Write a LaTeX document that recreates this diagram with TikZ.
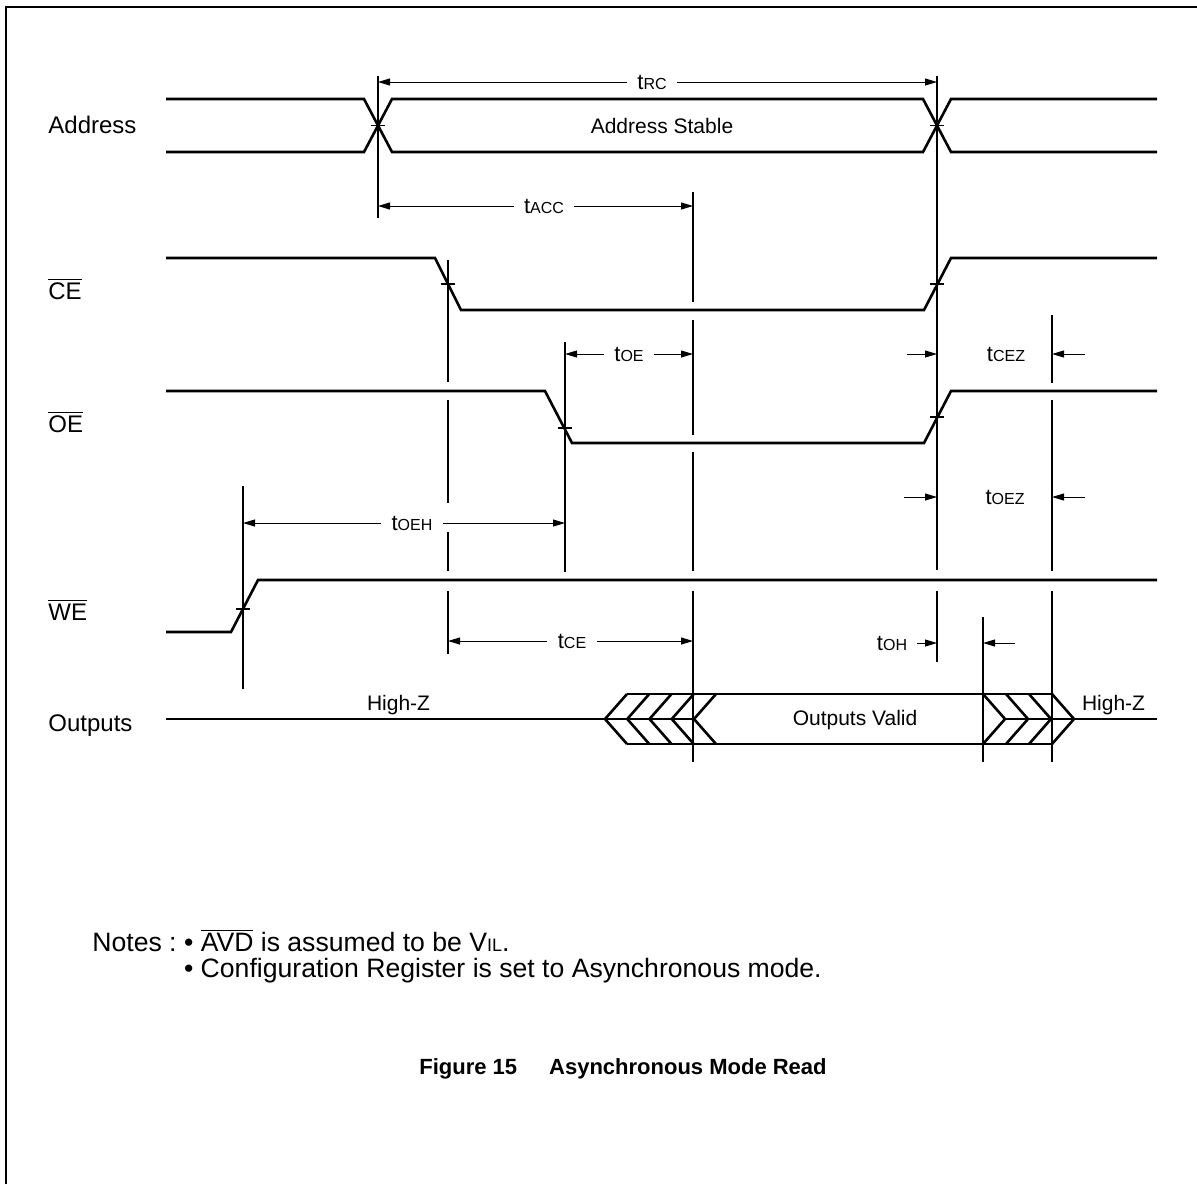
\documentclass[tikz,border=0pt]{standalone}
\usepackage{fontspec}
\setmainfont{Liberation Sans}
\usetikzlibrary{arrows.meta}

\newcommand{\tsub}[1]{t{\fontsize{8}{9}\selectfont #1}}
\newcommand{\ovl}[1]{$\overline{\hbox{#1}}$}

\begin{document}
\begin{tikzpicture}[x=0.5pt,y=-0.5pt,
    sig/.style={line width=1.3pt},
    guide/.style={line width=0.6pt},
    dim/.style={line width=0.5pt,-{Triangle[length=6pt,width=3.5pt]}},
    tlbl/.style={font=\fontsize{11}{13}\selectfont,inner sep=5pt},
    lbl/.style={font=\fontsize{12}{14}\selectfont,anchor=base west,inner sep=0pt},
    txt/.style={font=\fontsize{10.5}{12}\selectfont,inner sep=0pt}]
    \useasboundingbox (0,0) rectangle (1197,1184);
    \draw[line width=1pt] (6,1184) -- (6,7) -- (1197,7);

    % signal names
    \node[lbl] (addr) at (48,133) {Address};
    \node[lbl] (ce) at (48,299) {\ovl{CE}};
    \node[lbl] (oe) at (48,432) {\ovl{OE}};
    \node[lbl] (we) at (48,620) {\ovl{WE}};
    \node[lbl] (outs) at (48,731) {Outputs};

    % waveforms
    \draw[sig] (166,99) -- (364,99) -- (392,152) -- (923,152) -- (951,99) -- (1157,99);
    \draw[sig] (166,152) -- (364,152) -- (392,99) -- (923,99) -- (951,152) -- (1157,152);
    \node[txt] (stable) at (662,125.5) {Address Stable};
    \draw[sig] (166,258) -- (435,258) -- (461,310) -- (924,310) -- (951,258) -- (1157,258);
    \draw[sig] (166,391) -- (545,391) -- (572,443) -- (924,443) -- (951,391) -- (1157,391);
    \draw[sig] (166,632) -- (231,632) -- (258,580) -- (1157,580);

    % outputs bus
    \draw[sig] (166,719) -- (694,719);
    \draw[sig] (1005,719) -- (1157,719);
    \draw[sig] (627,694) -- (1052,694);
    \draw[sig] (627,744) -- (1052,744);
    \foreach \k in {0,...,4}
      \draw[sig] ({627+22.25*\k},694) -- ({605+22.25*\k},719) -- ({627+22.25*\k},744);
    \foreach \k in {0,...,3}
      \draw[sig] ({983+23*\k},694) -- ({1005+23*\k},719) -- ({983+23*\k},744);
    \node[txt,anchor=base] (hz1) at (398.5,710) {High-Z};
    \node[txt,anchor=base] (hz2) at (1113.5,710) {High-Z};
    \node[txt] (valid) at (855,720) {Outputs Valid};

    % reference lines
    \draw[guide] (378,76) -- (378,218);
    \draw[guide] (937,76) -- (937,570) (937,591) -- (937,662);
    \draw[guide] (448,260) -- (448,382) (448,400) -- (448,503) (448,532) -- (448,571) (448,591) -- (448,654);
    \draw[guide] (565,342) -- (565,572);
    \draw[guide] (693,192) -- (693,302) (693,320) -- (693,435) (693,452) -- (693,571) (693,591) -- (693,762);
    \draw[guide] (243,486) -- (243,689);
    \draw[guide] (983,617) -- (983,762);
    \draw[guide] (1052,315) -- (1052,383) (1052,400) -- (1052,571) (1052,591) -- (1052,762);
    \foreach \p in {(378,125.5),(937,125.5),(448,284),(937,284),(565,428),(937,417),(243,609)}
      \draw[guide] \p ++(-7,0) -- ++(14,0);

    % timing parameters
    \node[tlbl] (trc) at (652,82) {\tsub{RC}};
    \coordinate (trcL) at (378,82); \coordinate (trcR) at (937,82);
    \draw[dim] (trc) -- (trcL); \draw[dim] (trc) -- (trcR);
    \node[tlbl] (tacc) at (544,206) {\tsub{ACC}};
    \coordinate (taccL) at (378,206); \coordinate (taccR) at (693,206);
    \draw[dim] (tacc) -- (taccL); \draw[dim] (tacc) -- (taccR);
    \node[tlbl] (toe) at (629,354) {\tsub{OE}};
    \coordinate (toeL) at (565,354); \coordinate (toeR) at (693,354);
    \draw[dim] (toe) -- (toeL); \draw[dim] (toe) -- (toeR);
    \node[tlbl] (tcez) at (1006,354) {\tsub{CEZ}};
    \coordinate (cezA) at (907,354); \coordinate (cezB) at (937,354);
    \coordinate (cezC) at (1085,354); \coordinate (cezD) at (1052,354);
    \draw[dim] (cezA) -- (cezB); \draw[dim] (cezC) -- (cezD);
    \node[tlbl] (toez) at (1005,497) {\tsub{OEZ}};
    \coordinate (oezA) at (904,497); \coordinate (oezB) at (937,497);
    \coordinate (oezC) at (1085,497); \coordinate (oezD) at (1052,497);
    \draw[dim] (oezA) -- (oezB); \draw[dim] (oezC) -- (oezD);
    \node[tlbl] (toeh) at (412,523) {\tsub{OEH}};
    \coordinate (toehL) at (243,523); \coordinate (toehR) at (565,523);
    \draw[dim] (toeh) -- (toehL); \draw[dim] (toeh) -- (toehR);
    \node[tlbl] (tce) at (572,641) {\tsub{CE}};
    \coordinate (tceL) at (448,641); \coordinate (tceR) at (693,641);
    \draw[dim] (tce) -- (tceL); \draw[dim] (tce) -- (tceR);
    \node[tlbl] (toh) at (892,643) {\tsub{OH}};
    \coordinate (tohR) at (937,643);
    \coordinate (ohA) at (1015,643); \coordinate (ohB) at (983,643);
    \draw[dim] (toh) -- (tohR); \draw[dim] (ohA) -- (ohB);

    % notes and caption
    \node[anchor=base west,inner sep=0pt,font=\fontsize{13.3}{12.5}\selectfont] (notes) at (92,951)
      {\begin{tabular}[t]{@{}l@{\ }l@{}}
        Notes : & \textbullet\ \ovl{AVD} is assumed to be V{\fontsize{9}{10}\selectfont IL}.\\
                & \textbullet\ Configuration Register is set to Asynchronous mode.
       \end{tabular}};
    \node[anchor=base,inner sep=0pt,font=\fontsize{11}{13}\selectfont\bfseries] (cap) at (623,1074)
      {Figure 15\hspace{16pt}Asynchronous Mode Read};
  \end{tikzpicture}
\end{document}
